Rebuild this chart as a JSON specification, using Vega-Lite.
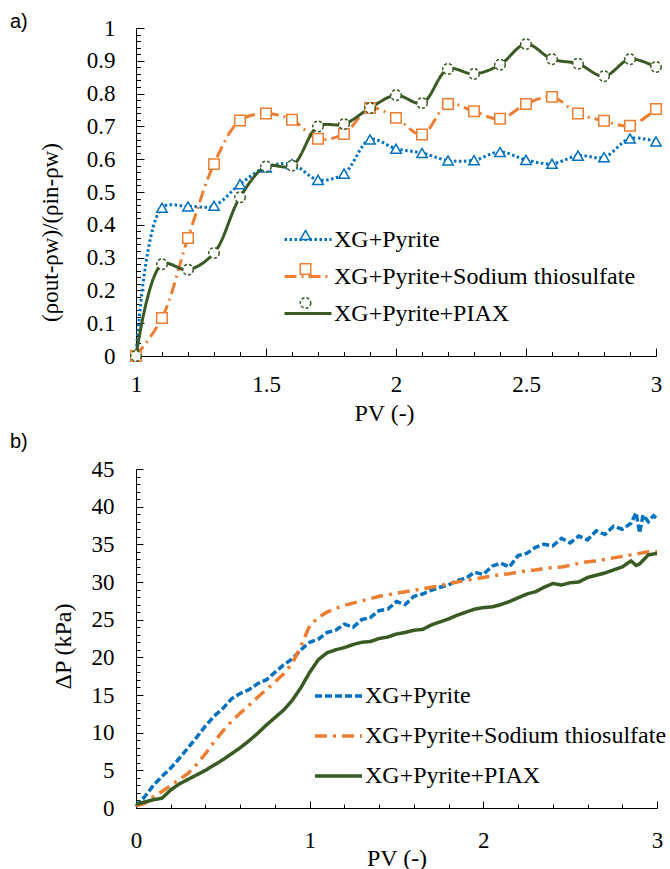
{
  "$schema": "https://vega.github.io/schema/vega-lite/v6.json",
  "background": "white",
  "padding": {"left": 10, "top": 12, "right": 5, "bottom": 0},
  "columns": 1,
  "spacing": 6,
  "resolve": {"scale": {"color": "independent", "strokeDash": "independent", "strokeWidth": "independent", "shape": "independent"}},
  "datasets": {
    "a": [
      {"pv":1.0,"y":0,"series":"XG+Pyrite"},{"pv":1.1,"y":0.452,"series":"XG+Pyrite"},{"pv":1.2,"y":0.456,"series":"XG+Pyrite"},{"pv":1.3,"y":0.458,"series":"XG+Pyrite"},{"pv":1.4,"y":0.524,"series":"XG+Pyrite"},{"pv":1.5,"y":0.575,"series":"XG+Pyrite"},{"pv":1.6,"y":0.585,"series":"XG+Pyrite"},{"pv":1.7,"y":0.537,"series":"XG+Pyrite"},{"pv":1.8,"y":0.556,"series":"XG+Pyrite"},{"pv":1.9,"y":0.66,"series":"XG+Pyrite"},{"pv":2.0,"y":0.632,"series":"XG+Pyrite"},{"pv":2.1,"y":0.619,"series":"XG+Pyrite"},{"pv":2.2,"y":0.596,"series":"XG+Pyrite"},{"pv":2.3,"y":0.597,"series":"XG+Pyrite"},{"pv":2.4,"y":0.622,"series":"XG+Pyrite"},{"pv":2.5,"y":0.598,"series":"XG+Pyrite"},{"pv":2.6,"y":0.586,"series":"XG+Pyrite"},{"pv":2.7,"y":0.611,"series":"XG+Pyrite"},{"pv":2.8,"y":0.606,"series":"XG+Pyrite"},{"pv":2.9,"y":0.663,"series":"XG+Pyrite"},{"pv":3.0,"y":0.654,"series":"XG+Pyrite"},
      {"pv":1.0,"y":0,"series":"XG+Pyrite+Sodium thiosulfate"},{"pv":1.1,"y":0.116,"series":"XG+Pyrite+Sodium thiosulfate"},{"pv":1.2,"y":0.36,"series":"XG+Pyrite+Sodium thiosulfate"},{"pv":1.3,"y":0.585,"series":"XG+Pyrite+Sodium thiosulfate"},{"pv":1.4,"y":0.718,"series":"XG+Pyrite+Sodium thiosulfate"},{"pv":1.5,"y":0.739,"series":"XG+Pyrite+Sodium thiosulfate"},{"pv":1.6,"y":0.72,"series":"XG+Pyrite+Sodium thiosulfate"},{"pv":1.7,"y":0.662,"series":"XG+Pyrite+Sodium thiosulfate"},{"pv":1.8,"y":0.677,"series":"XG+Pyrite+Sodium thiosulfate"},{"pv":1.9,"y":0.756,"series":"XG+Pyrite+Sodium thiosulfate"},{"pv":2.0,"y":0.726,"series":"XG+Pyrite+Sodium thiosulfate"},{"pv":2.1,"y":0.675,"series":"XG+Pyrite+Sodium thiosulfate"},{"pv":2.2,"y":0.768,"series":"XG+Pyrite+Sodium thiosulfate"},{"pv":2.3,"y":0.746,"series":"XG+Pyrite+Sodium thiosulfate"},{"pv":2.4,"y":0.723,"series":"XG+Pyrite+Sodium thiosulfate"},{"pv":2.5,"y":0.768,"series":"XG+Pyrite+Sodium thiosulfate"},{"pv":2.6,"y":0.79,"series":"XG+Pyrite+Sodium thiosulfate"},{"pv":2.7,"y":0.739,"series":"XG+Pyrite+Sodium thiosulfate"},{"pv":2.8,"y":0.717,"series":"XG+Pyrite+Sodium thiosulfate"},{"pv":2.9,"y":0.702,"series":"XG+Pyrite+Sodium thiosulfate"},{"pv":3.0,"y":0.753,"series":"XG+Pyrite+Sodium thiosulfate"},
      {"pv":1.0,"y":0,"series":"XG+Pyrite+PIAX"},{"pv":1.1,"y":0.28,"series":"XG+Pyrite+PIAX"},{"pv":1.2,"y":0.263,"series":"XG+Pyrite+PIAX"},{"pv":1.3,"y":0.314,"series":"XG+Pyrite+PIAX"},{"pv":1.4,"y":0.484,"series":"XG+Pyrite+PIAX"},{"pv":1.5,"y":0.578,"series":"XG+Pyrite+PIAX"},{"pv":1.6,"y":0.58,"series":"XG+Pyrite+PIAX"},{"pv":1.7,"y":0.70,"series":"XG+Pyrite+PIAX"},{"pv":1.8,"y":0.707,"series":"XG+Pyrite+PIAX"},{"pv":1.9,"y":0.756,"series":"XG+Pyrite+PIAX"},{"pv":2.0,"y":0.795,"series":"XG+Pyrite+PIAX"},{"pv":2.1,"y":0.771,"series":"XG+Pyrite+PIAX"},{"pv":2.2,"y":0.875,"series":"XG+Pyrite+PIAX"},{"pv":2.3,"y":0.86,"series":"XG+Pyrite+PIAX"},{"pv":2.4,"y":0.888,"series":"XG+Pyrite+PIAX"},{"pv":2.5,"y":0.951,"series":"XG+Pyrite+PIAX"},{"pv":2.6,"y":0.905,"series":"XG+Pyrite+PIAX"},{"pv":2.7,"y":0.891,"series":"XG+Pyrite+PIAX"},{"pv":2.8,"y":0.853,"series":"XG+Pyrite+PIAX"},{"pv":2.9,"y":0.905,"series":"XG+Pyrite+PIAX"},{"pv":3.0,"y":0.881,"series":"XG+Pyrite+PIAX"}
    ],
    "b": [
      {"pv":0.0,"dp":0.2,"series":"XG+Pyrite"},{"pv":0.05,"dp":1.5,"series":"XG+Pyrite"},{"pv":0.1,"dp":3.0,"series":"XG+Pyrite"},{"pv":0.15,"dp":4.2,"series":"XG+Pyrite"},{"pv":0.2,"dp":5.3,"series":"XG+Pyrite"},{"pv":0.25,"dp":6.6,"series":"XG+Pyrite"},{"pv":0.3,"dp":8.0,"series":"XG+Pyrite"},{"pv":0.35,"dp":9.4,"series":"XG+Pyrite"},{"pv":0.4,"dp":10.9,"series":"XG+Pyrite"},{"pv":0.45,"dp":12.2,"series":"XG+Pyrite"},{"pv":0.5,"dp":13.2,"series":"XG+Pyrite"},{"pv":0.55,"dp":14.5,"series":"XG+Pyrite"},{"pv":0.6,"dp":15.2,"series":"XG+Pyrite"},{"pv":0.65,"dp":15.7,"series":"XG+Pyrite"},{"pv":0.7,"dp":16.5,"series":"XG+Pyrite"},{"pv":0.75,"dp":17.0,"series":"XG+Pyrite"},{"pv":0.8,"dp":18.0,"series":"XG+Pyrite"},{"pv":0.85,"dp":19.0,"series":"XG+Pyrite"},{"pv":0.9,"dp":19.8,"series":"XG+Pyrite"},{"pv":0.95,"dp":21.0,"series":"XG+Pyrite"},{"pv":1.0,"dp":22.0,"series":"XG+Pyrite"},{"pv":1.05,"dp":22.4,"series":"XG+Pyrite"},{"pv":1.1,"dp":23.3,"series":"XG+Pyrite"},{"pv":1.15,"dp":23.6,"series":"XG+Pyrite"},{"pv":1.2,"dp":24.4,"series":"XG+Pyrite"},{"pv":1.25,"dp":24.0,"series":"XG+Pyrite"},{"pv":1.3,"dp":25.0,"series":"XG+Pyrite"},{"pv":1.35,"dp":25.3,"series":"XG+Pyrite"},{"pv":1.4,"dp":26.2,"series":"XG+Pyrite"},{"pv":1.45,"dp":26.4,"series":"XG+Pyrite"},{"pv":1.5,"dp":27.4,"series":"XG+Pyrite"},{"pv":1.55,"dp":27.0,"series":"XG+Pyrite"},{"pv":1.6,"dp":28.1,"series":"XG+Pyrite"},{"pv":1.65,"dp":28.4,"series":"XG+Pyrite"},{"pv":1.7,"dp":28.9,"series":"XG+Pyrite"},{"pv":1.75,"dp":29.3,"series":"XG+Pyrite"},{"pv":1.8,"dp":29.6,"series":"XG+Pyrite"},{"pv":1.85,"dp":30.2,"series":"XG+Pyrite"},{"pv":1.9,"dp":30.5,"series":"XG+Pyrite"},{"pv":1.95,"dp":31.3,"series":"XG+Pyrite"},{"pv":2.0,"dp":31.0,"series":"XG+Pyrite"},{"pv":2.05,"dp":32.1,"series":"XG+Pyrite"},{"pv":2.1,"dp":32.5,"series":"XG+Pyrite"},{"pv":2.15,"dp":32.0,"series":"XG+Pyrite"},{"pv":2.2,"dp":33.5,"series":"XG+Pyrite"},{"pv":2.25,"dp":33.8,"series":"XG+Pyrite"},{"pv":2.3,"dp":34.6,"series":"XG+Pyrite"},{"pv":2.35,"dp":35.0,"series":"XG+Pyrite"},{"pv":2.4,"dp":34.8,"series":"XG+Pyrite"},{"pv":2.45,"dp":35.8,"series":"XG+Pyrite"},{"pv":2.5,"dp":35.2,"series":"XG+Pyrite"},{"pv":2.55,"dp":36.1,"series":"XG+Pyrite"},{"pv":2.6,"dp":35.6,"series":"XG+Pyrite"},{"pv":2.65,"dp":36.8,"series":"XG+Pyrite"},{"pv":2.7,"dp":36.3,"series":"XG+Pyrite"},{"pv":2.75,"dp":37.4,"series":"XG+Pyrite"},{"pv":2.8,"dp":37.0,"series":"XG+Pyrite"},{"pv":2.85,"dp":37.8,"series":"XG+Pyrite"},{"pv":2.88,"dp":39.2,"series":"XG+Pyrite"},{"pv":2.9,"dp":36.5,"series":"XG+Pyrite"},{"pv":2.92,"dp":38.9,"series":"XG+Pyrite"},{"pv":2.95,"dp":38.0,"series":"XG+Pyrite"},{"pv":2.98,"dp":38.8,"series":"XG+Pyrite"},{"pv":3.0,"dp":38.4,"series":"XG+Pyrite"},
      {"pv":0.0,"dp":0.3,"series":"XG+Pyrite+Sodium thiosulfate"},{"pv":0.05,"dp":0.6,"series":"XG+Pyrite+Sodium thiosulfate"},{"pv":0.1,"dp":1.5,"series":"XG+Pyrite+Sodium thiosulfate"},{"pv":0.15,"dp":2.2,"series":"XG+Pyrite+Sodium thiosulfate"},{"pv":0.2,"dp":3.0,"series":"XG+Pyrite+Sodium thiosulfate"},{"pv":0.25,"dp":3.8,"series":"XG+Pyrite+Sodium thiosulfate"},{"pv":0.3,"dp":4.6,"series":"XG+Pyrite+Sodium thiosulfate"},{"pv":0.35,"dp":5.8,"series":"XG+Pyrite+Sodium thiosulfate"},{"pv":0.4,"dp":7.2,"series":"XG+Pyrite+Sodium thiosulfate"},{"pv":0.45,"dp":8.8,"series":"XG+Pyrite+Sodium thiosulfate"},{"pv":0.5,"dp":10.2,"series":"XG+Pyrite+Sodium thiosulfate"},{"pv":0.55,"dp":11.5,"series":"XG+Pyrite+Sodium thiosulfate"},{"pv":0.6,"dp":12.6,"series":"XG+Pyrite+Sodium thiosulfate"},{"pv":0.65,"dp":13.6,"series":"XG+Pyrite+Sodium thiosulfate"},{"pv":0.7,"dp":14.7,"series":"XG+Pyrite+Sodium thiosulfate"},{"pv":0.75,"dp":15.7,"series":"XG+Pyrite+Sodium thiosulfate"},{"pv":0.8,"dp":16.7,"series":"XG+Pyrite+Sodium thiosulfate"},{"pv":0.85,"dp":17.8,"series":"XG+Pyrite+Sodium thiosulfate"},{"pv":0.9,"dp":19.2,"series":"XG+Pyrite+Sodium thiosulfate"},{"pv":0.95,"dp":21.5,"series":"XG+Pyrite+Sodium thiosulfate"},{"pv":1.0,"dp":24.2,"series":"XG+Pyrite+Sodium thiosulfate"},{"pv":1.05,"dp":25.3,"series":"XG+Pyrite+Sodium thiosulfate"},{"pv":1.1,"dp":26.0,"series":"XG+Pyrite+Sodium thiosulfate"},{"pv":1.15,"dp":26.5,"series":"XG+Pyrite+Sodium thiosulfate"},{"pv":1.2,"dp":26.9,"series":"XG+Pyrite+Sodium thiosulfate"},{"pv":1.25,"dp":27.2,"series":"XG+Pyrite+Sodium thiosulfate"},{"pv":1.3,"dp":27.5,"series":"XG+Pyrite+Sodium thiosulfate"},{"pv":1.35,"dp":27.8,"series":"XG+Pyrite+Sodium thiosulfate"},{"pv":1.4,"dp":28.1,"series":"XG+Pyrite+Sodium thiosulfate"},{"pv":1.45,"dp":28.3,"series":"XG+Pyrite+Sodium thiosulfate"},{"pv":1.5,"dp":28.5,"series":"XG+Pyrite+Sodium thiosulfate"},{"pv":1.55,"dp":28.7,"series":"XG+Pyrite+Sodium thiosulfate"},{"pv":1.6,"dp":28.9,"series":"XG+Pyrite+Sodium thiosulfate"},{"pv":1.65,"dp":29.1,"series":"XG+Pyrite+Sodium thiosulfate"},{"pv":1.7,"dp":29.3,"series":"XG+Pyrite+Sodium thiosulfate"},{"pv":1.75,"dp":29.5,"series":"XG+Pyrite+Sodium thiosulfate"},{"pv":1.8,"dp":29.8,"series":"XG+Pyrite+Sodium thiosulfate"},{"pv":1.85,"dp":30.0,"series":"XG+Pyrite+Sodium thiosulfate"},{"pv":1.9,"dp":30.2,"series":"XG+Pyrite+Sodium thiosulfate"},{"pv":1.95,"dp":30.4,"series":"XG+Pyrite+Sodium thiosulfate"},{"pv":2.0,"dp":30.6,"series":"XG+Pyrite+Sodium thiosulfate"},{"pv":2.05,"dp":30.8,"series":"XG+Pyrite+Sodium thiosulfate"},{"pv":2.1,"dp":31.0,"series":"XG+Pyrite+Sodium thiosulfate"},{"pv":2.15,"dp":31.1,"series":"XG+Pyrite+Sodium thiosulfate"},{"pv":2.2,"dp":31.3,"series":"XG+Pyrite+Sodium thiosulfate"},{"pv":2.25,"dp":31.5,"series":"XG+Pyrite+Sodium thiosulfate"},{"pv":2.3,"dp":31.6,"series":"XG+Pyrite+Sodium thiosulfate"},{"pv":2.35,"dp":31.8,"series":"XG+Pyrite+Sodium thiosulfate"},{"pv":2.4,"dp":31.9,"series":"XG+Pyrite+Sodium thiosulfate"},{"pv":2.45,"dp":32.0,"series":"XG+Pyrite+Sodium thiosulfate"},{"pv":2.5,"dp":32.2,"series":"XG+Pyrite+Sodium thiosulfate"},{"pv":2.55,"dp":32.5,"series":"XG+Pyrite+Sodium thiosulfate"},{"pv":2.6,"dp":32.7,"series":"XG+Pyrite+Sodium thiosulfate"},{"pv":2.65,"dp":32.8,"series":"XG+Pyrite+Sodium thiosulfate"},{"pv":2.7,"dp":33.0,"series":"XG+Pyrite+Sodium thiosulfate"},{"pv":2.75,"dp":33.2,"series":"XG+Pyrite+Sodium thiosulfate"},{"pv":2.8,"dp":33.4,"series":"XG+Pyrite+Sodium thiosulfate"},{"pv":2.85,"dp":33.6,"series":"XG+Pyrite+Sodium thiosulfate"},{"pv":2.9,"dp":33.8,"series":"XG+Pyrite+Sodium thiosulfate"},{"pv":2.95,"dp":34.0,"series":"XG+Pyrite+Sodium thiosulfate"},{"pv":3.0,"dp":34.0,"series":"XG+Pyrite+Sodium thiosulfate"},
      {"pv":0.0,"dp":0.5,"series":"XG+Pyrite+PIAX"},{"pv":0.05,"dp":0.8,"series":"XG+Pyrite+PIAX"},{"pv":0.1,"dp":1.1,"series":"XG+Pyrite+PIAX"},{"pv":0.15,"dp":1.3,"series":"XG+Pyrite+PIAX"},{"pv":0.2,"dp":2.4,"series":"XG+Pyrite+PIAX"},{"pv":0.25,"dp":3.2,"series":"XG+Pyrite+PIAX"},{"pv":0.3,"dp":3.8,"series":"XG+Pyrite+PIAX"},{"pv":0.35,"dp":4.4,"series":"XG+Pyrite+PIAX"},{"pv":0.4,"dp":5.0,"series":"XG+Pyrite+PIAX"},{"pv":0.45,"dp":5.7,"series":"XG+Pyrite+PIAX"},{"pv":0.5,"dp":6.4,"series":"XG+Pyrite+PIAX"},{"pv":0.55,"dp":7.2,"series":"XG+Pyrite+PIAX"},{"pv":0.6,"dp":8.0,"series":"XG+Pyrite+PIAX"},{"pv":0.65,"dp":8.9,"series":"XG+Pyrite+PIAX"},{"pv":0.7,"dp":9.9,"series":"XG+Pyrite+PIAX"},{"pv":0.75,"dp":11.0,"series":"XG+Pyrite+PIAX"},{"pv":0.8,"dp":12.0,"series":"XG+Pyrite+PIAX"},{"pv":0.85,"dp":13.0,"series":"XG+Pyrite+PIAX"},{"pv":0.9,"dp":14.3,"series":"XG+Pyrite+PIAX"},{"pv":0.95,"dp":16.0,"series":"XG+Pyrite+PIAX"},{"pv":1.0,"dp":18.0,"series":"XG+Pyrite+PIAX"},{"pv":1.05,"dp":19.7,"series":"XG+Pyrite+PIAX"},{"pv":1.1,"dp":20.6,"series":"XG+Pyrite+PIAX"},{"pv":1.15,"dp":21.0,"series":"XG+Pyrite+PIAX"},{"pv":1.2,"dp":21.3,"series":"XG+Pyrite+PIAX"},{"pv":1.25,"dp":21.7,"series":"XG+Pyrite+PIAX"},{"pv":1.3,"dp":22.0,"series":"XG+Pyrite+PIAX"},{"pv":1.35,"dp":22.1,"series":"XG+Pyrite+PIAX"},{"pv":1.4,"dp":22.5,"series":"XG+Pyrite+PIAX"},{"pv":1.45,"dp":22.7,"series":"XG+Pyrite+PIAX"},{"pv":1.5,"dp":23.1,"series":"XG+Pyrite+PIAX"},{"pv":1.55,"dp":23.3,"series":"XG+Pyrite+PIAX"},{"pv":1.6,"dp":23.6,"series":"XG+Pyrite+PIAX"},{"pv":1.65,"dp":23.7,"series":"XG+Pyrite+PIAX"},{"pv":1.7,"dp":24.3,"series":"XG+Pyrite+PIAX"},{"pv":1.75,"dp":24.7,"series":"XG+Pyrite+PIAX"},{"pv":1.8,"dp":25.1,"series":"XG+Pyrite+PIAX"},{"pv":1.85,"dp":25.6,"series":"XG+Pyrite+PIAX"},{"pv":1.9,"dp":26.0,"series":"XG+Pyrite+PIAX"},{"pv":1.95,"dp":26.4,"series":"XG+Pyrite+PIAX"},{"pv":2.0,"dp":26.6,"series":"XG+Pyrite+PIAX"},{"pv":2.05,"dp":26.7,"series":"XG+Pyrite+PIAX"},{"pv":2.1,"dp":27.0,"series":"XG+Pyrite+PIAX"},{"pv":2.15,"dp":27.4,"series":"XG+Pyrite+PIAX"},{"pv":2.2,"dp":27.9,"series":"XG+Pyrite+PIAX"},{"pv":2.25,"dp":28.4,"series":"XG+Pyrite+PIAX"},{"pv":2.3,"dp":28.7,"series":"XG+Pyrite+PIAX"},{"pv":2.35,"dp":29.3,"series":"XG+Pyrite+PIAX"},{"pv":2.4,"dp":29.8,"series":"XG+Pyrite+PIAX"},{"pv":2.45,"dp":29.6,"series":"XG+Pyrite+PIAX"},{"pv":2.5,"dp":29.9,"series":"XG+Pyrite+PIAX"},{"pv":2.55,"dp":30.0,"series":"XG+Pyrite+PIAX"},{"pv":2.6,"dp":30.6,"series":"XG+Pyrite+PIAX"},{"pv":2.65,"dp":30.9,"series":"XG+Pyrite+PIAX"},{"pv":2.7,"dp":31.2,"series":"XG+Pyrite+PIAX"},{"pv":2.75,"dp":31.6,"series":"XG+Pyrite+PIAX"},{"pv":2.8,"dp":32.0,"series":"XG+Pyrite+PIAX"},{"pv":2.85,"dp":32.8,"series":"XG+Pyrite+PIAX"},{"pv":2.88,"dp":32.2,"series":"XG+Pyrite+PIAX"},{"pv":2.9,"dp":32.4,"series":"XG+Pyrite+PIAX"},{"pv":2.95,"dp":33.6,"series":"XG+Pyrite+PIAX"},{"pv":3.0,"dp":33.8,"series":"XG+Pyrite+PIAX"}
    ]
  },
  "concat": [
    {
      "width": 520,
      "height": 328,
      "title": {"text": "a)", "anchor": "start", "frame": "group", "dx": -126, "dy": 15, "offset": 0, "font": "Liberation Sans", "fontSize": 20, "fontWeight": "normal", "color": "black"},
      "data": {"name": "a"},
      "encoding": {
        "x": {"field": "pv", "type": "quantitative", "scale": {"domain": [1, 3], "nice": false, "zero": false},
          "axis": {"title": "PV (-)", "values": [1,1.1,1.2,1.3,1.4,1.5,1.6,1.7,1.8,1.9,2,2.1,2.2,2.3,2.4,2.5,2.6,2.7,2.8,2.9,3],
            "labelExpr": "abs(datum.value*2 - round(datum.value*2)) < 0.001 ? format(datum.value, '~g') : ''",
            "tickSize": {"condition": {"test": "abs(datum.value*2 - round(datum.value*2)) < 0.001", "value": -8}, "value": -4.5},
            "labelPadding": 25, "titlePadding": 2, "titleX": 248}},
        "y": {"field": "y", "type": "quantitative", "scale": {"domain": [0, 1], "nice": false},
          "axis": {"title": "(ρout-ρw)/(ρin-ρw)", "titleFontSize": 23, "values": [0,0.02,0.04,0.06,0.08,0.1,0.12,0.14,0.16,0.18,0.2,0.22,0.24,0.26,0.28,0.3,0.32,0.34,0.36,0.38,0.4,0.42,0.44,0.46,0.48,0.5,0.52,0.54,0.56,0.58,0.6,0.62,0.64,0.66,0.68,0.7,0.72,0.74,0.76,0.78,0.8,0.82,0.84,0.86,0.88,0.9,0.92,0.94,0.96,0.98,1],
            "labelExpr": "abs(datum.value*10 - round(datum.value*10)) < 0.001 ? format(datum.value, '~g') : ''",
            "tickSize": {"condition": {"test": "abs(datum.value*10 - round(datum.value*10)) < 0.001", "value": -8}, "value": -4.5},
            "labelPadding": 29, "titlePadding": 24, "titleY": 204}}
      },
      "layer": [
        {
          "mark": {"type": "line", "interpolate": "catmull-rom"},
          "encoding": {
            "color": {"field": "series", "type": "nominal", "scale": {"domain": ["XG+Pyrite", "XG+Pyrite+Sodium thiosulfate", "XG+Pyrite+PIAX"], "range": ["#0070C0", "#ED7D31", "#3A5A23"]},
              "legend": {"orient": "none", "legendX": 147, "legendY": 186.5, "title": null, "symbolType": "stroke", "symbolSize": 2209, "labelFont": "Liberation Serif", "labelFontSize": 24, "labelColor": "black", "labelLimit": 500, "labelOffset": 1, "rowPadding": -5.5, "padding": 0}},
            "strokeDash": {"field": "series", "type": "nominal", "scale": {"domain": ["XG+Pyrite", "XG+Pyrite+Sodium thiosulfate", "XG+Pyrite+PIAX"], "range": [[2.5, 2.5], [12, 5, 2, 5], [1, 0]]},
              "legend": {"orient": "none", "legendX": 147, "legendY": 186.5, "title": null, "symbolType": "stroke", "symbolSize": 2209, "labelFont": "Liberation Serif", "labelFontSize": 24, "labelColor": "black", "labelLimit": 500, "labelOffset": 1, "rowPadding": -5.5, "padding": 0}},
            "strokeWidth": {"field": "series", "type": "nominal", "scale": {"domain": ["XG+Pyrite", "XG+Pyrite+Sodium thiosulfate", "XG+Pyrite+PIAX"], "range": [3, 3, 2.5]},
              "legend": {"orient": "none", "legendX": 147, "legendY": 186.5, "title": null, "symbolType": "stroke", "symbolSize": 2209, "labelFont": "Liberation Serif", "labelFontSize": 24, "labelColor": "black", "labelLimit": 500, "labelOffset": 1, "rowPadding": -5.5, "padding": 0}}
          }
        },
        {
          "mark": {"type": "point", "filled": false, "fill": "white", "fillOpacity": 1, "opacity": 1, "size": 110, "strokeWidth": 1.5},
          "encoding": {
            "color": {"field": "series", "type": "nominal", "scale": {"domain": ["XG+Pyrite", "XG+Pyrite+Sodium thiosulfate", "XG+Pyrite+PIAX"], "range": ["#0070C0", "#ED7D31", "#3A5A23"]},
              "legend": {"orient": "none", "legendX": 157.5, "legendY": 195, "title": null, "symbolSize": 110, "symbolFillColor": "white", "symbolStrokeWidth": 1.5, "labelFont": "Liberation Serif", "labelFontSize": 24, "labelColor": "black", "labelExpr": "' '", "labelLimit": 500, "labelOffset": 5, "rowPadding": 10, "padding": 0}},
            "shape": {"field": "series", "type": "nominal", "scale": {"domain": ["XG+Pyrite", "XG+Pyrite+Sodium thiosulfate", "XG+Pyrite+PIAX"], "range": ["triangle-up", "square", "circle"]},
              "legend": {"orient": "none", "legendX": 157.5, "legendY": 195, "title": null, "symbolSize": 110, "symbolFillColor": "white", "symbolStrokeWidth": 1.5, "labelFont": "Liberation Serif", "labelFontSize": 24, "labelColor": "black", "labelExpr": "' '", "labelLimit": 500, "labelOffset": 5, "rowPadding": 10, "padding": 0}},
            "strokeDash": {"field": "series", "type": "nominal", "scale": {"domain": ["XG+Pyrite", "XG+Pyrite+Sodium thiosulfate", "XG+Pyrite+PIAX"], "range": [[1, 0], [1, 0], [3, 2]]},
              "legend": {"orient": "none", "legendX": 157.5, "legendY": 195, "title": null, "symbolSize": 110, "symbolFillColor": "white", "symbolStrokeWidth": 1.5, "labelFont": "Liberation Serif", "labelFontSize": 24, "labelColor": "black", "labelExpr": "' '", "labelLimit": 500, "labelOffset": 5, "rowPadding": 10, "padding": 0}}
          }
        }
      ],
      "resolve": {"scale": {"color": "independent", "strokeDash": "independent", "strokeWidth": "independent", "shape": "independent"}}
    },
    {
      "width": 521,
      "height": 339,
      "title": {"text": "b)", "anchor": "start", "frame": "group", "dx": -126, "dy": 0, "offset": 6, "font": "Liberation Sans", "fontSize": 20, "fontWeight": "normal", "color": "black"},
      "data": {"name": "b"},
      "mark": {"type": "line"},
      "encoding": {
        "x": {"field": "pv", "type": "quantitative", "scale": {"domain": [0, 3], "nice": false, "zero": false},
          "axis": {"title": "PV (-)", "values": [0,0.2,0.4,0.6,0.8,1,1.2,1.4,1.6,1.8,2,2.2,2.4,2.6,2.8,3],
            "labelExpr": "abs(datum.value - round(datum.value)) < 0.001 ? format(datum.value, '~g') : ''",
            "tickSize": {"condition": {"test": "abs(datum.value - round(datum.value)) < 0.001", "value": -7}, "value": -4},
            "labelPadding": 28, "titlePadding": -9}},
        "y": {"field": "dp", "type": "quantitative", "scale": {"domain": [0, 45], "nice": false},
          "axis": {"title": "ΔP (kPa)", "values": [0,1,2,3,4,5,6,7,8,9,10,11,12,13,14,15,16,17,18,19,20,21,22,23,24,25,26,27,28,29,30,31,32,33,34,35,36,37,38,39,40,41,42,43,44,45],
            "labelExpr": "datum.value % 5 == 0 ? datum.label : ''",
            "tickSize": {"condition": {"test": "datum.value % 5 == 0", "value": -7}, "value": -4},
            "labelPadding": 29, "titlePadding": 16, "titleY": 177}},
        "color": {"field": "series", "type": "nominal", "scale": {"domain": ["XG+Pyrite", "XG+Pyrite+Sodium thiosulfate", "XG+Pyrite+PIAX"], "range": ["#0070C0", "#ED7D31", "#3A5A23"]},
          "legend": {"orient": "none", "legendX": 177, "legendY": 201.5, "title": null, "symbolType": "stroke", "symbolSize": 2209, "labelFont": "Liberation Serif", "labelFontSize": 24, "labelColor": "black", "labelLimit": 500, "labelOffset": 1, "rowPadding": 2, "padding": 0}},
        "strokeDash": {"field": "series", "type": "nominal", "scale": {"domain": ["XG+Pyrite", "XG+Pyrite+Sodium thiosulfate", "XG+Pyrite+PIAX"], "range": [[7, 3], [12, 6, 3, 6], [1, 0]]},
          "legend": {"orient": "none", "legendX": 177, "legendY": 201.5, "title": null, "symbolType": "stroke", "symbolSize": 2209, "labelFont": "Liberation Serif", "labelFontSize": 24, "labelColor": "black", "labelLimit": 500, "labelOffset": 1, "rowPadding": 2, "padding": 0}},
        "strokeWidth": {"field": "series", "type": "nominal", "scale": {"domain": ["XG+Pyrite", "XG+Pyrite+Sodium thiosulfate", "XG+Pyrite+PIAX"], "range": [3.5, 3.5, 2.5]},
          "legend": {"orient": "none", "legendX": 177, "legendY": 201.5, "title": null, "symbolType": "stroke", "symbolSize": 2209, "labelFont": "Liberation Serif", "labelFontSize": 24, "labelColor": "black", "labelLimit": 500, "labelOffset": 1, "rowPadding": 2, "padding": 0}}
      }
    }
  ],
  "config": {
    "view": {"stroke": null},
    "axis": {"domainColor": "black", "tickColor": "black", "labelColor": "black", "titleColor": "black", "labelFont": "Liberation Serif", "titleFont": "Liberation Serif", "labelFontSize": 23, "titleFontSize": 24, "titleFontWeight": "normal", "grid": false, "labelOverlap": false, "labelFlush": false, "domainWidth": 1, "tickWidth": 1}
  }
}
